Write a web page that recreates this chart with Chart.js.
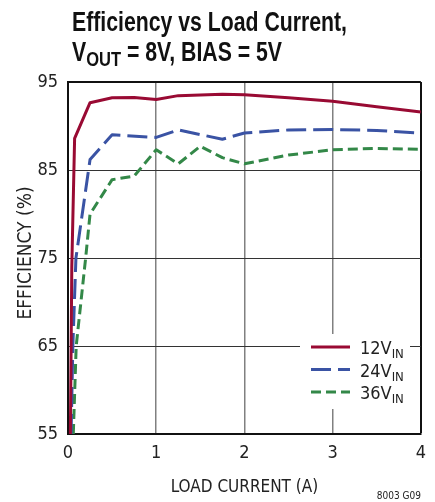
<!DOCTYPE html>
<html>
<head>
<meta charset="utf-8">
<script src="https://cdn.jsdelivr.net/npm/chart.js@4/dist/chart.umd.min.js"></script>
<style>
  html, body { margin: 0; padding: 0; background: #fff; }
  #wrap { position: relative; width: 435px; height: 502px; }
  #title {
    position: absolute; left: 72px; top: 7px;
    font-family: "Liberation Sans", Arial, sans-serif;
    font-weight: bold; font-size: 27px; line-height: 30px; color: #111;
    white-space: nowrap; transform-origin: 0 0;
  }
  #title sub { font-size: 21px; vertical-align: -5px; line-height: 0; }
  #note {
    position: absolute; right: 14px; top: 490px;
    font-family: "DejaVu Sans Condensed", sans-serif;
    font-size: 10px; color: #222;
  }
</style>
</head>
<body>
<div id="wrap">
  <canvas id="chart" width="435" height="502"></canvas>
  <div id="title"><span id="t1">Efficiency vs Load Current,</span><br>V<sub>OUT</sub> = 8V, BIAS = 5V</div>
  <div id="note">8003 G09</div>
</div>
<script>
// values
const seriesNames = ['12V', '24V', '36V'];

const load12 = [0.027, 0.043, 0.075, 0.25, 0.5, 0.75, 1.0, 1.25, 1.75, 2.0, 2.5, 3.0, 3.5, 4.0];
const eff12  = [55, 74, 88.6, 92.65, 93.2, 93.25, 93.0, 93.45, 93.6, 93.55, 93.2, 92.8, 92.2, 91.6];

const load24 = [0.035, 0.055, 0.09, 0.25, 0.5, 1.0, 1.25, 1.75, 2.0, 2.5, 3.0, 3.5, 4.0];
const eff24  = [55, 65, 75, 86.2, 89.0, 88.7, 89.55, 88.5, 89.2, 89.55, 89.6, 89.5, 89.2];

const load36 = [0.06, 0.093, 0.2, 0.25, 0.5, 0.75, 1.0, 1.25, 1.5, 1.75, 2.0, 2.5, 3.0, 3.5, 4.0];
const eff36  = [55, 65, 75, 80, 83.9, 84.3, 87.3, 85.7, 87.7, 86.4, 85.7, 86.7, 87.3, 87.45, 87.35];

const xTicks = [0, 1, 2, 3, 4];
const yTicks = [55, 65, 75, 85, 95];

const FONT = '"DejaVu Sans Condensed", sans-serif';

// squeeze the bold title to the condensed width of the original
const t1 = document.getElementById('t1');
const title = document.getElementById('title');
title.style.transform = 'scaleX(' + (275 / t1.getBoundingClientRect().width) + ')';

function toPoints(xs, ys) {
  return xs.map((x, i) => ({ x: x, y: ys[i] }));
}

// legend with subscripts on a white box, plus the rotated y title
const extras = {
  id: 'extras',
  afterDraw(chart) {
    const ctx = chart.ctx;
    ctx.save();
    ctx.fillStyle = '#fff';
    ctx.fillRect(300, 334, 110, 75);
    chart.data.datasets.forEach((ds, i) => {
      const y = 347 + i * 22.5;
      ctx.strokeStyle = ds.borderColor;
      ctx.lineWidth = 3;
      ctx.setLineDash(ds.borderDash || []);
      ctx.beginPath();
      ctx.moveTo(311, y);
      ctx.lineTo(350, y);
      ctx.stroke();
      ctx.setLineDash([]);
      ctx.fillStyle = '#222';
      ctx.textBaseline = 'alphabetic';
      ctx.font = '18px ' + FONT;
      ctx.fillText(seriesNames[i], 360, y + 7);
      const w = ctx.measureText(seriesNames[i]).width;
      ctx.font = '13px ' + FONT;
      ctx.fillText('IN', 360 + w, y + 11);
    });

    ctx.translate(26, 253);
    ctx.rotate(-Math.PI / 2);
    ctx.textAlign = 'center';
    ctx.textBaseline = 'middle';
    ctx.font = '19px ' + FONT;
    ctx.fillText('EFFICIENCY (%)', 0, 0);
    ctx.restore();
  }
};

new Chart(document.getElementById('chart'), {
  type: 'line',
  data: {
    datasets: [
      { label: '12V', data: toPoints(load12, eff12), borderColor: '#990a33', borderWidth: 3 },
      { label: '24V', data: toPoints(load24, eff24), borderColor: '#3a53a4', borderWidth: 3, borderDash: [20, 7] },
      { label: '36V', data: toPoints(load36, eff36), borderColor: '#338848', borderWidth: 3, borderDash: [10, 5] }
    ]
  },
  options: {
    responsive: false,
    animation: false,
    parsing: false,
    elements: { point: { radius: 0 }, line: { tension: 0, borderJoinStyle: 'round' } },
    layout: { padding: { top: 82, right: 14, left: 0, bottom: 0 } },
    plugins: { legend: { display: false }, tooltip: { enabled: false } },
    scales: {
      x: {
        type: 'linear', min: 0, max: 4,
        afterBuildTicks: s => { s.ticks = xTicks.map(v => ({ value: v })); },
        afterFit: s => { s.height = 68; },
        ticks: { color: '#222', padding: 9, font: { family: FONT, size: 18 } },
        grid: {
          drawTicks: false,
          color: c => c.tick && c.tick.value === 4 ? '#111' : '#808080',
          lineWidth: c => c.tick && c.tick.value === 4 ? 2 : 1.5
        },
        border: { color: '#111', width: 2 },
        title: { display: true, text: 'LOAD CURRENT (A)', color: '#222', font: { family: FONT, size: 17 }, padding: { top: 3 } }
      },
      y: {
        min: 55, max: 95,
        afterBuildTicks: s => { s.ticks = yTicks.map(v => ({ value: v })); },
        afterFit: s => { s.width = 68; },
        ticks: { color: '#222', padding: 10, font: { family: FONT, size: 18 } },
        grid: {
          drawTicks: false,
          color: c => c.tick && c.tick.value === 95 ? '#111' : '#333',
          lineWidth: c => c.tick && c.tick.value === 95 ? 2 : 1
        },
        border: { color: '#111', width: 2 }
      }
    }
  },
  plugins: [extras]
});
</script>
</body>
</html>
